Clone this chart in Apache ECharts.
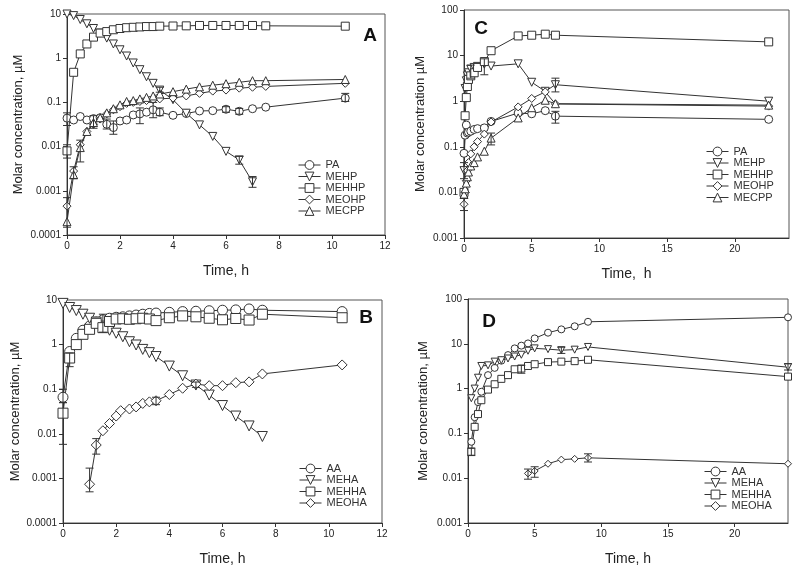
<!DOCTYPE html>
<html><head><meta charset="utf-8">
<script src="https://cdn.jsdelivr.net/npm/echarts@6/dist/echarts.min.js"></script>
<style>html,body{margin:0;padding:0;background:#fff}#c{width:800px;height:572px}</style>
</head><body><div id="c"></div>
<script>
// ---------- Panel A (PA, MEHP, MEHHP, MEOHP, MECPP), x 0-12 h ----------
const A_PA = [[0,0.044],[0.25,0.04],[0.5,0.048],[0.75,0.04],[1,0.043],[1.25,0.045],[1.5,0.032],[1.75,0.027],[2,0.038],[2.25,0.04],[2.5,0.052],[2.75,0.055],[3,0.06],[3.25,0.068],[3.5,0.06],[4,0.051],[4.5,0.056],[5,0.064],[5.5,0.065],[6,0.07],[6.5,0.063],[7,0.072],[7.5,0.078],[10.5,0.125]];
const A_MEHP = [[0,10],[0.25,9.2],[0.5,7.5],[0.75,6.0],[1,4.7],[1.25,3.7],[1.5,2.85],[1.75,2.1],[2,1.55],[2.25,1.12],[2.5,0.78],[2.75,0.55],[3,0.38],[3.25,0.27],[3.5,0.19],[4,0.115],[4.5,0.057],[5,0.031],[5.5,0.017],[6,0.0078],[6.5,0.005],[7,0.0016]];
const A_MEHHP = [[0,0.008],[0.25,0.48],[0.5,1.25],[0.75,2.1],[1,3.0],[1.25,3.7],[1.5,4.0],[1.75,4.4],[2,4.7],[2.25,4.9],[2.5,5.0],[2.75,5.1],[3,5.2],[3.25,5.2],[3.5,5.3],[4,5.35],[4.5,5.4],[5,5.5],[5.5,5.5],[6,5.5],[6.5,5.5],[7,5.5],[7.5,5.4],[10.5,5.3]];
const A_MEOHP = [[0,0.00045],[0.25,0.0028],[0.5,0.011],[0.75,0.022],[1,0.032],[1.25,0.042],[1.5,0.055],[1.75,0.068],[2,0.08],[2.25,0.095],[2.5,0.1],[2.75,0.105],[3,0.11],[3.25,0.115],[3.5,0.12],[4,0.125],[4.5,0.14],[5,0.16],[5.5,0.18],[6,0.19],[6.5,0.21],[7,0.22],[7.5,0.23],[10.5,0.27]];
const A_MECPP = [[0,0.0002],[0.25,0.0023],[0.5,0.0095],[0.75,0.022],[1,0.035],[1.25,0.045],[1.5,0.058],[1.75,0.072],[2,0.088],[2.25,0.105],[2.5,0.11],[2.75,0.12],[3,0.13],[3.25,0.14],[3.5,0.155],[4,0.175],[4.5,0.2],[5,0.225],[5.5,0.245],[6,0.265],[6.5,0.285],[7,0.31],[7.5,0.31],[10.5,0.33]];
const A_ERR = [[0,0.0055,0.011],[0,0.00015,0.0007],[0.25,0.0019,0.0035],[0.5,0.0045,0.014],[0,0.03,0.058],[1,0.026,0.05],[1.5,0.025,0.042],[1.75,0.019,0.038],[2.75,0.033,0.075],[3.25,0.045,0.1],[3.5,0.05,0.075],[6,0.06,0.08],[6.5,0.054,0.073],[6.5,0.004,0.006],[7,0.0012,0.0021],[10.5,0.105,0.16],[3.5,0.17,0.22]];

// ---------- Panel B (AA, MEHA, MEHHA, MEOHA), x 0-12 h ----------
const B_AA = [[0,0.066],[0.25,0.7],[0.5,1.38],[0.75,2.1],[1,2.6],[1.25,3.2],[1.5,3.6],[1.75,3.9],[2,4.1],[2.25,4.2],[2.5,4.4],[2.75,4.6],[3,4.8],[3.25,5.0],[3.5,5.1],[4,5.3],[4.5,5.5],[5,5.6],[5.5,5.75],[6,5.9],[6.5,6.0],[7,6.3],[7.5,5.9],[10.5,5.5]];
const B_MEHA = [[0,8.4],[0.25,6.8],[0.5,5.8],[0.75,4.8],[1,3.9],[1.25,3.2],[1.5,2.6],[1.75,2.1],[2,1.8],[2.25,1.5],[2.5,1.16],[2.75,0.98],[3,0.78],[3.25,0.66],[3.5,0.54],[4,0.33],[4.5,0.2],[5,0.124],[5.5,0.074],[6,0.043],[6.5,0.025],[7,0.015],[7.5,0.0087]];
const B_MEHHA = [[0,0.029],[0.25,0.5],[0.5,1.0],[0.75,1.7],[1,2.2],[1.25,3.0],[1.5,2.4],[1.75,3.3],[2,3.75],[2.25,3.8],[2.5,3.7],[2.75,3.8],[3,3.9],[3.25,3.75],[3.5,3.45],[4,4.0],[4.5,4.4],[5,4.2],[5.5,3.9],[6,3.6],[6.5,3.85],[7,3.55],[7.5,4.8],[10.5,4.0]];
const B_MEOHA = [[1,0.00074],[1.25,0.0056],[1.5,0.0117],[1.75,0.017],[2,0.025],[2.17,0.033],[2.5,0.036],[2.75,0.04],[3,0.048],[3.25,0.052],[3.5,0.055],[4,0.076],[4.5,0.105],[5,0.13],[5.5,0.12],[6,0.12],[6.5,0.14],[7,0.146],[7.5,0.22],[10.5,0.35]];
const B_ERR = [[0,0.0058,0.05],[0,0.05,0.1],[0.25,0.32,0.65],[1.5,1.9,4.8],[1,0.0005,0.0017],[1.25,0.0035,0.0078],[3.5,0.045,0.066],[5,0.11,0.145]];

// ---------- Panel C (PA, MEHP, MEHHP, MEOHP, MECPP), x 0-24 h ----------
const C_PA = [[0,0.072],[0.083,0.18],[0.17,0.3],[0.25,0.2],[0.33,0.21],[0.5,0.22],[0.75,0.24],[1,0.25],[1.5,0.26],[2,0.36],[4,0.55],[5,0.53],[6,0.62],[6.75,0.47],[22.5,0.4]];
const C_MEHP = [[0,0.03],[0.083,1.9],[0.17,2.8],[0.25,3.6],[0.33,4.2],[0.5,5.0],[0.75,5.5],[1,5.8],[1.5,6.5],[2,5.9],[4,6.6],[5,2.6],[6,1.65],[6.75,2.3],[22.5,1.0]];
const C_MEHHP = [[0,0.01],[0.083,0.48],[0.17,1.2],[0.25,2.1],[0.33,3.0],[0.5,3.6],[0.75,4.2],[1,5.5],[1.5,7.4],[2,12.8],[4,27],[5,28],[6,29.5],[6.75,28],[22.5,20]];
const C_MEOHP = [[0,0.0055],[0.083,0.01],[0.17,0.018],[0.25,0.03],[0.33,0.045],[0.5,0.07],[0.75,0.1],[1,0.13],[1.5,0.19],[2,0.35],[4,0.75],[5,1.15],[6,1.6],[6.75,0.87],[22.5,0.78]];
const C_MECPP = [[0,0.009],[0.083,0.012],[0.17,0.016],[0.25,0.022],[0.33,0.028],[0.5,0.038],[0.75,0.045],[1,0.06],[1.5,0.08],[2,0.155],[4,0.43],[5,0.72],[6,1.05],[6.75,0.88],[22.5,0.82]];
const C_ERR = [[0,0.004,0.0075],[0.5,3.2,6.2],[1.5,3.8,8.5],[2,0.11,0.2],[6.75,1.6,3.2],[6.75,0.33,0.6],[0,0.02,0.045]];

// ---------- Panel D (AA, MEHA, MEHHA, MEOHA), x 0-24 h ----------
const D_AA = [[0.25,0.065],[0.5,0.23],[0.75,0.5],[1,0.85],[1.5,2.0],[2,2.9],[2.5,4.2],[3,5.6],[3.5,7.9],[4,9.1],[4.5,10.2],[5,13.2],[6,17.7],[7,21],[8,24.6],[9,31],[24,39]];
const D_MEHA = [[0.25,0.61],[0.5,1.0],[0.75,1.75],[1,3.2],[1.5,3.3],[2,4.0],[2.5,4.3],[3,4.7],[3.5,5.2],[4,5.7],[4.5,7.0],[5,7.9],[6,7.6],[7,7.2],[8,7.4],[9,8.5],[24,3.0]];
const D_MEHHA = [[0.25,0.039],[0.5,0.14],[0.75,0.27],[1,0.55],[1.5,0.95],[2,1.25],[2.5,1.65],[3,2.0],[3.5,2.7],[4,2.8],[4.5,3.2],[5,3.5],[6,3.9],[7,4.0],[8,4.1],[9,4.4],[24,1.85]];
const D_MEOHA = [[4.5,0.0128],[5,0.0145],[6,0.021],[7,0.026],[8,0.027],[9,0.0285],[24,0.021]];
const D_ERR = [[0.25,0.032,0.047],[4,2.2,3.3],[4.5,0.0095,0.016],[5,0.0105,0.018],[7,6.1,8.4],[9,0.023,0.035],[24,2.6,3.6]];

const X_TITLE = ['Time, h', 'Time, h', 'Time,  h', 'Time, h'];
const Y_TITLE = ['Molar concentration, \u00b5M', 'Molar concentration, \u00b5M', 'Molar concentration \u00b5M', 'Molar concentration, \u00b5M'];
const PANEL = ['A', 'B', 'C', 'D'];

const FONT = "'Liberation Sans', Arial, sans-serif";
const INK = '#333';

const grids = [
  {left: 67, top: 14, width: 318, height: 221},
  {left: 63, top: 300, width: 319, height: 223},
  {left: 464, top: 10, width: 325, height: 228},
  {left: 468, top: 299, width: 320, height: 224}
];
const xMax = [12, 12, 24, 24], xInt = [2, 2, 5, 5];
const yMin = [0.0001, 0.0001, 0.001, 0.001], yMax = [10, 10, 100, 100];
const yGap = [42, 41, 37, 38];

const SYM = {
  PA: ['circle', 0], AA: ['circle', 0],
  MEHP: ['triangle', 180], MEHA: ['triangle', 180],
  MEHHP: ['rect', 0], MEHHA: ['rect', 0],
  MEOHP: ['diamond', 0], MEOHA: ['diamond', 0],
  MECPP: ['triangle', 0]
};

function line(name, data, gi, size) {
  return {
    name, type: 'line', data, xAxisIndex: gi, yAxisIndex: gi,
    symbol: SYM[name][0], symbolRotate: SYM[name][1], symbolSize: size,
    lineStyle: {color: INK, width: 1},
    itemStyle: {color: '#fff', borderColor: INK, borderWidth: 1},
    emphasis: {disabled: true}, animation: false, z: 3
  };
}
function errs(data, gi) {
  return {
    type: 'custom', xAxisIndex: gi, yAxisIndex: gi, data, z: 6, animation: false,
    encode: {x: 0, y: [1, 2]},
    renderItem: function (params, api) {
      const t = api.value(0), lo = api.value(1), hi = api.value(2);
      const p1 = api.coord([t, lo]), p2 = api.coord([t, hi]);
      const w = 4, st = {stroke: INK, lineWidth: 1};
      return {type: 'group', children: [
        {type: 'line', shape: {x1: p1[0], y1: p1[1], x2: p2[0], y2: p2[1]}, style: st},
        {type: 'line', shape: {x1: p1[0] - w, y1: p1[1], x2: p1[0] + w, y2: p1[1]}, style: st},
        {type: 'line', shape: {x1: p2[0] - w, y1: p2[1], x2: p2[0] + w, y2: p2[1]}, style: st}
      ]};
    }
  };
}

const series = [
  line('PA', A_PA, 0, 8), line('MEHP', A_MEHP, 0, 8), line('MEHHP', A_MEHHP, 0, 8), line('MEOHP', A_MEOHP, 0, 8), line('MECPP', A_MECPP, 0, 8), errs(A_ERR, 0),
  line('AA', B_AA, 1, 10), line('MEHA', B_MEHA, 1, 10), line('MEHHA', B_MEHHA, 1, 10), line('MEOHA', B_MEOHA, 1, 10), errs(B_ERR, 1),
  line('PA', C_PA, 2, 8), line('MEHP', C_MEHP, 2, 8), line('MEHHP', C_MEHHP, 2, 8), line('MEOHP', C_MEOHP, 2, 8), line('MECPP', C_MECPP, 2, 8), errs(C_ERR, 2),
  line('AA', D_AA, 3, 7), line('MEHA', D_MEHA, 3, 7), line('MEHHA', D_MEHHA, 3, 7), line('MEOHA', D_MEOHA, 3, 7), errs(D_ERR, 3)
];

function fmtLog(v) { return String(+Number(v).toPrecision(1)); }

const option = {
  backgroundColor: '#fff',
  animation: false,
  grid: grids.map(g => Object.assign({show: true, borderColor: '#555', borderWidth: 1, backgroundColor: 'transparent'}, g)),
  xAxis: grids.map((g, i) => ({
    type: 'value', gridIndex: i, min: 0, max: xMax[i], interval: xInt[i],
    name: X_TITLE[i], nameLocation: 'middle', nameGap: 29,
    nameTextStyle: {fontFamily: FONT, fontSize: 14, color: '#222'},
    axisLine: {show: true, lineStyle: {color: INK}},
    axisTick: {show: true, inside: false, length: 4, lineStyle: {color: INK}},
    axisLabel: {fontFamily: FONT, fontSize: 10, color: '#222', margin: 6, showMaxLabel: xMax[i] % xInt[i] === 0},
    splitLine: {show: false}
  })),
  yAxis: grids.map((g, i) => ({
    type: 'log', logBase: 10, gridIndex: i, min: yMin[i], max: yMax[i],
    name: Y_TITLE[i], nameLocation: 'middle', nameGap: yGap[i], nameRotate: 90,
    nameTextStyle: {fontFamily: FONT, fontSize: 13, color: '#222'},
    axisLine: {show: true, lineStyle: {color: INK}},
    axisTick: {show: true, inside: false, length: 4, lineStyle: {color: INK}},
    minorTick: {show: false},
    axisLabel: {fontFamily: FONT, fontSize: 10, color: '#222', margin: 6, formatter: fmtLog},
    splitLine: {show: false}
  })),
  legend: [
    {data: ['PA', 'MEHP', 'MEHHP', 'MEOHP', 'MECPP'], left: 298, top: 159.5},
    {data: ['AA', 'MEHA', 'MEHHA', 'MEOHA'], left: 299, top: 463},
    {data: ['PA', 'MEHP', 'MEHHP', 'MEOHP', 'MECPP'], left: 706, top: 146},
    {data: ['AA', 'MEHA', 'MEHHA', 'MEOHA'], left: 704, top: 466}
  ].map(l => Object.assign({
    orient: 'vertical', padding: 0, itemWidth: 22, itemHeight: 11, itemGap: 0.5, selectedMode: false,
    itemStyle: {color: '#fff', borderColor: INK, borderWidth: 1},
    lineStyle: {color: INK, width: 1},
    textStyle: {fontFamily: FONT, fontSize: 11, color: '#333', lineHeight: 11}
  }, l)),
  graphic: [
    {type: 'text', x: 370, y: 36, style: {text: PANEL[0], font: 'bold 19px ' + FONT, fill: '#111', textAlign: 'center', textVerticalAlign: 'middle'}},
    {type: 'text', x: 366, y: 318, style: {text: PANEL[1], font: 'bold 19px ' + FONT, fill: '#111', textAlign: 'center', textVerticalAlign: 'middle'}},
    {type: 'text', x: 481, y: 29, style: {text: PANEL[2], font: 'bold 19px ' + FONT, fill: '#111', textAlign: 'center', textVerticalAlign: 'middle'}},
    {type: 'text', x: 489, y: 322, style: {text: PANEL[3], font: 'bold 19px ' + FONT, fill: '#111', textAlign: 'center', textVerticalAlign: 'middle'}}
  ],
  series
};

const chart = echarts.init(document.getElementById('c'), null, {renderer: 'canvas'});
chart.setOption(option);
</script>
</body></html>
